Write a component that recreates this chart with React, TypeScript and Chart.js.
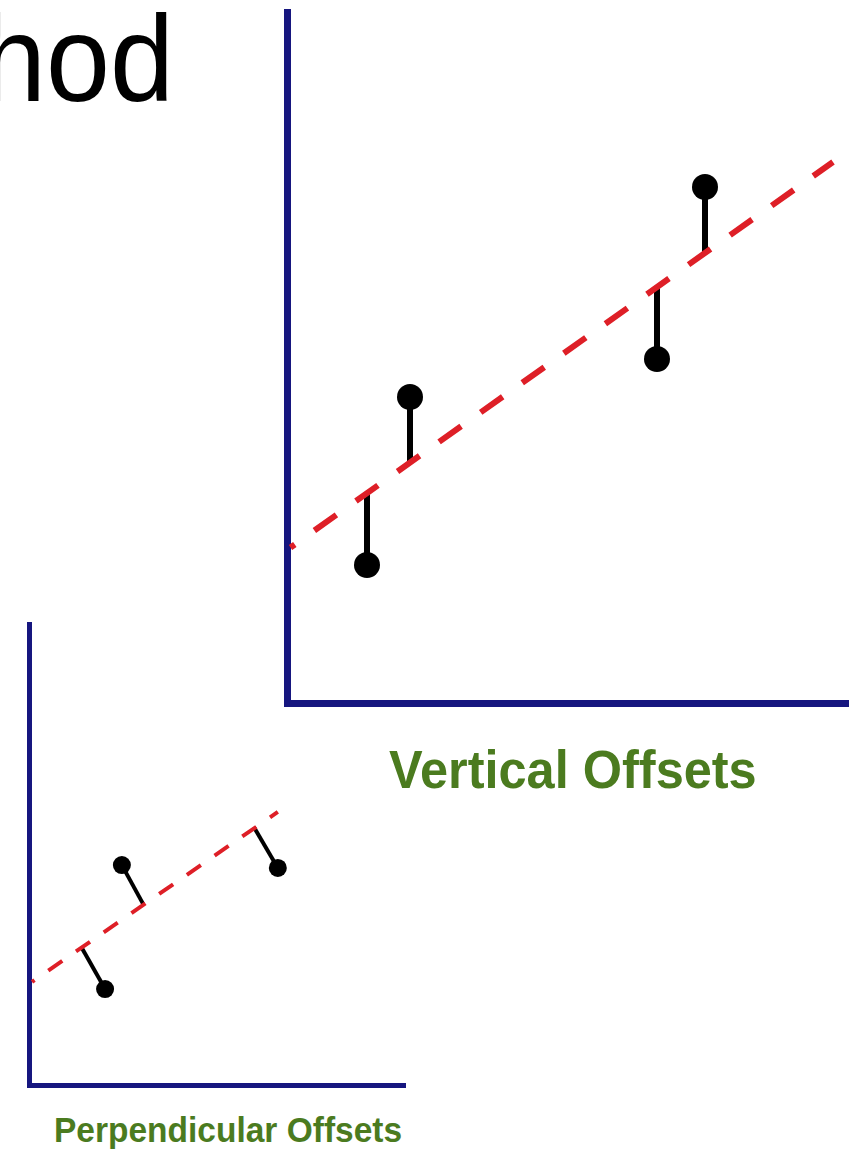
import React, { useEffect, useRef } from "react";
import { Chart, registerables } from "chart.js";

Chart.register(...registerables);

// ---- Vertical offsets diagram (large) ----
// Fitted line endpoints
const vFitX = [0.07, 10.92];
const vFitY = [3.11, 10.82];
// Observed points
const vPointX = [1.6, 2.46, 7.4, 8.36];
const vPointY = [2.76, 6.12, 6.88, 10.32];
// Where each vertical offset meets the fitted line
const vFootY = [4.2, 4.8, 8.3, 9.0];
const vAxisMax = { x: 11.22, y: 13.82 };

// ---- Perpendicular offsets diagram (small) ----
const pFitX = [0.0625, 6.21];
const pFitY = [2.59, 6.84];
const pPointX = [1.89, 2.31, 6.21];
const pPointY = [2.41, 5.51, 5.44];
const pFootX = [1.31, 2.84, 5.61];
const pFootY = [3.44, 4.54, 6.46];
const pAxisMax = { x: 9.39, y: 11.525 };

const titleVertical = "Vertical Offsets";
const titlePerpendicular = "Perpendicular Offsets";
const headingFragment = "hod";

const AXIS_BLUE = "#16167f";
const FIT_RED = "#de1f27";
const TITLE_GREEN = "#4b7b1f";
const FONT = '"Liberation Sans", Arial, Helvetica, sans-serif';

function axis(max: number, width: number) {
  return {
    type: "linear" as const,
    min: 0,
    max,
    display: true,
    grid: { display: false, drawTicks: false },
    ticks: { display: false },
    border: { display: true, color: AXIS_BLUE, width },
  };
}

function segmentDataset(x1: number, y1: number, x2: number, y2: number, width: number) {
  return {
    data: [
      { x: x1, y: y1 },
      { x: x2, y: y2 },
    ],
    showLine: true,
    borderColor: "#000",
    borderWidth: width,
    pointRadius: 0,
    order: 2,
  };
}

function buildVertical(canvas: HTMLCanvasElement) {
  const stems = vPointX.map((x, i) => segmentDataset(x, vPointY[i], x, vFootY[i], 6));
  return new Chart(canvas, {
    type: "scatter",
    data: {
      datasets: [
        {
          data: vPointX.map((x, i) => ({ x, y: vPointY[i] })),
          pointRadius: 13,
          pointBackgroundColor: "#000",
          pointBorderWidth: 0,
          showLine: false,
          order: 0,
        },
        {
          data: vFitX.map((x, i) => ({ x, y: vFitY[i] })),
          showLine: true,
          borderColor: FIT_RED,
          borderWidth: 6,
          borderDash: [27, 24],
          borderDashOffset: 21.7,
          pointRadius: 0,
          order: 1,
        },
        ...stems,
      ],
    },
    options: {
      responsive: false,
      animation: false,
      events: [],
      layout: { autoPadding: false, padding: { left: 47, top: 12, right: 8, bottom: 27 } },
      scales: { x: axis(vAxisMax.x, 7), y: axis(vAxisMax.y, 7) },
      plugins: { legend: { display: false }, tooltip: { enabled: false } },
    },
  } as any);
}

function buildPerpendicular(canvas: HTMLCanvasElement) {
  const stems = pPointX.map((x, i) => segmentDataset(x, pPointY[i], pFootX[i], pFootY[i], 4));
  return new Chart(canvas, {
    type: "scatter",
    data: {
      datasets: [
        {
          data: pPointX.map((x, i) => ({ x, y: pPointY[i] })),
          pointRadius: 9,
          pointBackgroundColor: "#000",
          pointBorderWidth: 0,
          showLine: false,
          order: 0,
        },
        {
          data: pFitX.map((x, i) => ({ x, y: pFitY[i] })),
          showLine: true,
          borderColor: FIT_RED,
          borderWidth: 4,
          borderDash: [17, 16.7],
          borderDashOffset: 13.9,
          pointRadius: 0,
          order: 1,
        },
        ...stems,
      ],
    },
    options: {
      responsive: false,
      animation: false,
      events: [],
      layout: { autoPadding: false, padding: { left: 29.5, top: 24.5, right: 25, bottom: 14.5 } },
      scales: { x: axis(pAxisMax.x, 5), y: axis(pAxisMax.y, 5) },
      plugins: { legend: { display: false }, tooltip: { enabled: false } },
    },
  } as any);
}

function Label(props: {
  text: string;
  left: number;
  baseline: number;
  size: number;
  color: string;
  bold?: boolean;
  stretch?: number;
}) {
  const { text, left, baseline, size, color, bold, stretch = 1 } = props;
  const asc = 0.8465 * size;
  return (
    <div
      style={{
        position: "absolute",
        left,
        top: baseline - asc,
        fontFamily: FONT,
        fontSize: size,
        lineHeight: 1,
        fontWeight: bold ? 700 : 400,
        color,
        whiteSpace: "nowrap",
        transform: `scaleY(${stretch})`,
        transformOrigin: `0 ${asc}px`,
      }}
    >
      {text}
    </div>
  );
}

export default function App() {
  const bigRef = useRef<HTMLCanvasElement>(null);
  const smallRef = useRef<HTMLCanvasElement>(null);

  useEffect(() => {
    const charts: Chart[] = [];
    if (smallRef.current) charts.push(buildPerpendicular(smallRef.current));
    if (bigRef.current) charts.push(buildVertical(bigRef.current));
    return () => charts.forEach((c) => c.destroy());
  }, []);

  return (
    <div
      style={{
        position: "absolute",
        left: 0,
        top: 0,
        width: 856,
        height: 1150,
        overflow: "hidden",
        background: "#fff",
      }}
    >
      <Label text={headingFragment} left={-18} baseline={101} size={115} color="#000" stretch={1.06} />
      <canvas
        ref={smallRef}
        width={430}
        height={500}
        style={{ position: "absolute", left: 0, top: 600, display: "block" }}
      />
      <canvas
        ref={bigRef}
        width={616}
        height={730}
        style={{ position: "absolute", left: 240, top: 0, display: "block" }}
      />
      <Label text={titleVertical} left={389} baseline={789} size={50.5} color={TITLE_GREEN} bold stretch={1.08} />
      <Label text={titlePerpendicular} left={54} baseline={1142} size={33.5} color={TITLE_GREEN} bold stretch={1.04} />
    </div>
  );
}
